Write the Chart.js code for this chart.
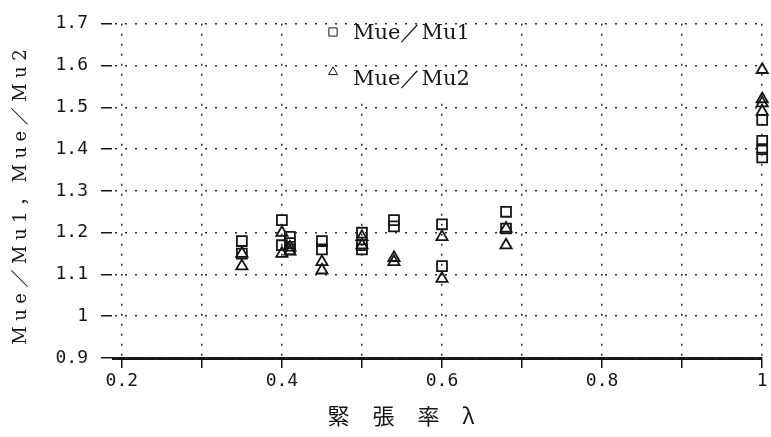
<!DOCTYPE html>
<html>
<head>
<meta charset="utf-8">
<script src="https://cdn.jsdelivr.net/npm/chart.js@4/dist/chart.umd.min.js"></script>
<style>
  html, body { margin: 0; padding: 0; background: #ffffff; }
  #wrap { width: 771px; height: 437px; }
</style>
</head>
<body>
<div id="wrap"><canvas id="canvas" width="771" height="437"></canvas></div>
<script>
"use strict";

// 緊張率 λ and the two ratios
const lambda_mu1 = [0.35, 0.35, 0.4, 0.4, 0.41, 0.41, 0.41, 0.45, 0.45, 0.5, 0.5, 0.5, 0.54, 0.54, 0.6, 0.6, 0.68, 0.68, 1, 1, 1, 1];
const ratio_mu1 = [1.18, 1.15, 1.23, 1.17, 1.19, 1.175, 1.16, 1.18, 1.16, 1.2, 1.17, 1.16, 1.23, 1.215, 1.22, 1.12, 1.25, 1.21, 1.47, 1.42, 1.4, 1.38];

const lambda_mu2 = [0.35, 0.35, 0.4, 0.4, 0.41, 0.41, 0.45, 0.45, 0.5, 0.5, 0.54, 0.54, 0.6, 0.6, 0.68, 0.68, 1, 1, 1, 1];
const ratio_mu2 = [1.15, 1.12, 1.2, 1.15, 1.165, 1.155, 1.13, 1.11, 1.19, 1.17, 1.14, 1.13, 1.19, 1.09, 1.21, 1.17, 1.59, 1.52, 1.51, 1.49];

const series_labels = ["Mue／Mu1", "Mue／Mu2"];

const x_ticks = [0.2, 0.3, 0.4, 0.5, 0.6, 0.7, 0.8, 0.9, 1];
const x_tick_labels = ["0.2", "", "0.4", "", "0.6", "", "0.8", "", "1"];
const y_ticks = [0.9, 1, 1.1, 1.2, 1.3, 1.4, 1.5, 1.6, 1.7];
const y_tick_labels = ["0.9", "1", "1.1", "1.2", "1.3", "1.4", "1.5", "1.6", "1.7"];

const x_title = "緊 張 率 λ";
const y_title = "Mue／Mu1，Mue／Mu2";

const INK = "#151515";
const DOTS = "#2a2a2a";
const monoFont = { family: "'DejaVu Sans Mono', 'Liberation Mono', monospace", size: 18 };

const canvas = document.getElementById("canvas");
const ctx = canvas.getContext("2d");

const toPoints = (xs, ys) => xs.map((x, i) => ({ x: x, y: ys[i] }));

// draws text centred on the origin, one glyph at a time with extra gap
const fillSpaced = (c, text, gap) => {
  const chars = Array.from(text);
  const widths = chars.map((ch) => c.measureText(ch).width);
  const total = widths.reduce((a, b) => a + b, 0) + gap * (chars.length - 1);
  let x = -total / 2;
  c.textAlign = "left";
  chars.forEach((ch, i) => {
    c.fillText(ch, x, 0);
    x += widths[i] + gap;
  });
};

// legend sits inside the plot, on a white patch that hides the vertical dots
const legendBox = {
  id: "legendBox",
  beforeDatasetsDraw(chart) {
    const c = chart.ctx;
    c.save();
    c.fillStyle = "#ffffff";
    c.fillRect(312, 16, 140, 85);
    const rows = [
      { style: "rect", r: 5.8, px: 333, py: 32, ty: 34 },
      { style: "triangle", r: 5.2, px: 333, py: 72, ty: 80 },
    ];
    rows.forEach((row, i) => {
      c.strokeStyle = INK;
      c.fillStyle = "rgba(0,0,0,0)";
      Chart.helpers.drawPoint(c, { pointStyle: row.style, radius: row.r, borderWidth: 1.7, rotation: 0 }, row.px, row.py);
      c.fillStyle = INK;
      c.font = "21px 'DejaVu Serif', serif";
      c.textAlign = "left";
      c.textBaseline = "middle";
      c.fillText(chart.data.datasets[i].label, 353, row.ty);
    });
    c.restore();
  },
};

// axis titles, with the wide letter spacing of the original
const axisTitles = {
  id: "axisTitles",
  afterDraw(chart) {
    const c = chart.ctx;
    // keep the far left margin blank
    c.save();
    c.fillStyle = "#ffffff";
    c.fillRect(0, 0, 6, chart.height);
    c.restore();

    c.save();
    c.fillStyle = INK;
    c.textBaseline = "middle";
    c.font = "18px 'DejaVu Serif', 'Noto Sans CJK JP', serif";
    c.translate(21, 197);
    c.rotate(-Math.PI / 2);
    fillSpaced(c, y_title, 5.5);
    c.restore();

    c.save();
    c.fillStyle = INK;
    c.textBaseline = "middle";
    c.font = "22px 'Noto Sans CJK JP', sans-serif";
    c.translate(401, 416);
    fillSpaced(c, x_title, 9);
    c.restore();
  },
};

const config = {
  type: "scatter",
  data: {
    datasets: [
      {
        label: series_labels[0],
        data: toPoints(lambda_mu1, ratio_mu1),
        pointStyle: "rect",
        pointRadius: 7,
        borderColor: INK,
        backgroundColor: "rgba(0,0,0,0)",
        borderWidth: 1.8,
        clip: false,
      },
      {
        label: series_labels[1],
        data: toPoints(lambda_mu2, ratio_mu2),
        pointStyle: "triangle",
        pointRadius: 6.5,
        borderColor: INK,
        backgroundColor: "rgba(0,0,0,0)",
        borderWidth: 1.8,
        clip: false,
      },
    ],
  },
  plugins: [legendBox, axisTitles],
  options: {
    responsive: false,
    animation: false,
    layout: { padding: { top: 14, right: 7, left: 0, bottom: 0 } },
    plugins: {
      legend: { display: false },
      tooltip: { enabled: false },
    },
    scales: {
      x: {
        type: "linear",
        min: 0.189,
        max: 1,
        afterBuildTicks: (axis) => {
          axis.ticks = x_ticks.map((v) => ({ value: v }));
        },
        afterFit: (axis) => {
          axis.height = 79;
        },
        ticks: {
          autoSkip: false,
          maxRotation: 0,
          padding: 3,
          color: INK,
          font: monoFont,
          callback: (value, index) => x_tick_labels[index],
        },
        grid: {
          color: DOTS,
          lineWidth: 1.5,
          tickLength: 10,
          tickColor: INK,
          tickWidth: 1.5,
          tickBorderDash: [],
        },
        border: { color: INK, width: 3, dash: [2, 8] },
      },
      y: {
        type: "linear",
        min: 0.9,
        max: 1.7,
        afterBuildTicks: (axis) => {
          axis.ticks = y_ticks.map((v) => ({ value: v }));
        },
        afterFit: (axis) => {
          axis.width = 113;
        },
        ticks: {
          autoSkip: false,
          padding: 13,
          color: INK,
          font: monoFont,
          callback: (value, index) => y_tick_labels[index],
        },
        grid: {
          color: DOTS,
          lineWidth: 1.5,
          tickLength: 12,
          tickColor: INK,
          tickWidth: 1.5,
          tickBorderDash: [],
          z: 1, // horizontal dots run over the legend patch
        },
        border: { color: INK, width: 3, dash: [2, 8] },
      },
    },
  },
};

const scatterChart = new Chart(ctx, config);
</script>
</body>
</html>
